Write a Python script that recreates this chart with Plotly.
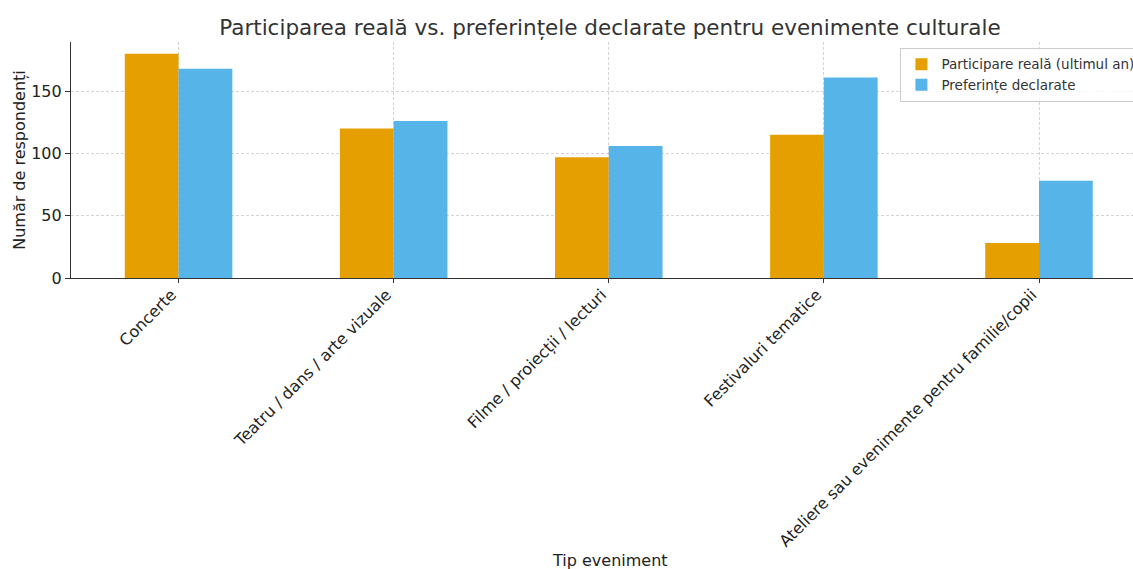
import plotly.graph_objects as go

categories = ["Concerte", "Teatru / dans / arte vizuale", "Filme / proiecții / lecturi",
              "Festivaluri tematice", "Ateliere sau evenimente pentru familie/copii"]
participare = [180, 120, 97, 115, 28]
preferinte = [168, 126, 106, 161, 78]
series_names = ["Participare reală (ultimul an)", "Preferințe declarate"]
y_ticks = [0, 50, 100, 150]

FONT = "DejaVu Sans"
fig = go.Figure()
fig.add_trace(go.Bar(x=categories, y=participare, name=series_names[0],
                     marker=dict(color="#E69F00", line=dict(width=0))))
fig.add_trace(go.Bar(x=categories, y=preferinte, name=series_names[1],
                     marker=dict(color="#56B4E9", line=dict(width=0))))

fig.update_layout(
    width=1133, height=569,
    margin=dict(l=71, r=0, t=42, b=291, autoexpand=False),
    paper_bgcolor="white", plot_bgcolor="white",
    barmode="group", bargap=0.5, bargroupgap=0,
    font=dict(family=FONT, color="#333333"),
    title=dict(text="Participarea reală vs. preferințele declarate pentru evenimente culturale",
               x=0.5075, xref="paper", xanchor="center", y=0.951, yanchor="middle",
               font=dict(size=21.5, color="#333333", family=FONT)),
    legend=dict(x=0.781, y=0.975, xanchor="left", yanchor="top",
                bgcolor="rgba(255,255,255,0.8)", bordercolor="#cccccc", borderwidth=1,
                font=dict(size=13.5, color="#333333", family=FONT),
                itemsizing="constant", tracegroupgap=0),
    showlegend=True,
)
fig.update_xaxes(
    type="category", range=[-0.5, 4.437], automargin=False,
    tickangle=-45, tickfont=dict(size=16, color="#222222", family=FONT),
    ticklabelshift=-7, ticklabelstandoff=-4,
    showgrid=True, gridcolor="#d4d4d4", griddash="3px,2px", gridwidth=1,
    showline=True, linecolor="#333333", linewidth=1.2,
    ticks="outside", ticklen=4, tickcolor="#333333",
)
fig.update_yaxes(
    range=[0, 189.4], tickvals=y_ticks, automargin=False,
    tickfont=dict(size=16, color="#222222", family=FONT),
    showgrid=True, gridcolor="#d4d4d4", griddash="3px,2px", gridwidth=1,
    showline=True, linecolor="#333333", linewidth=1.2,
    ticks="outside", ticklen=5, tickcolor="#333333",
    zeroline=False,
    title=dict(text="Număr de respondenți", font=dict(size=16, color="#222222", family=FONT), standoff=1),
)
fig.add_annotation(text="Tip eveniment", xref="paper", yref="paper", x=0.5075, y=-1.199,
                   xanchor="center", yanchor="middle", showarrow=False,
                   font=dict(size=16, color="#222222", family=FONT))
fig.write_html("out.html", config={"displayModeBar": False},
               post_script="document.body.style.margin='0px';document.body.style.overflow='hidden';")
